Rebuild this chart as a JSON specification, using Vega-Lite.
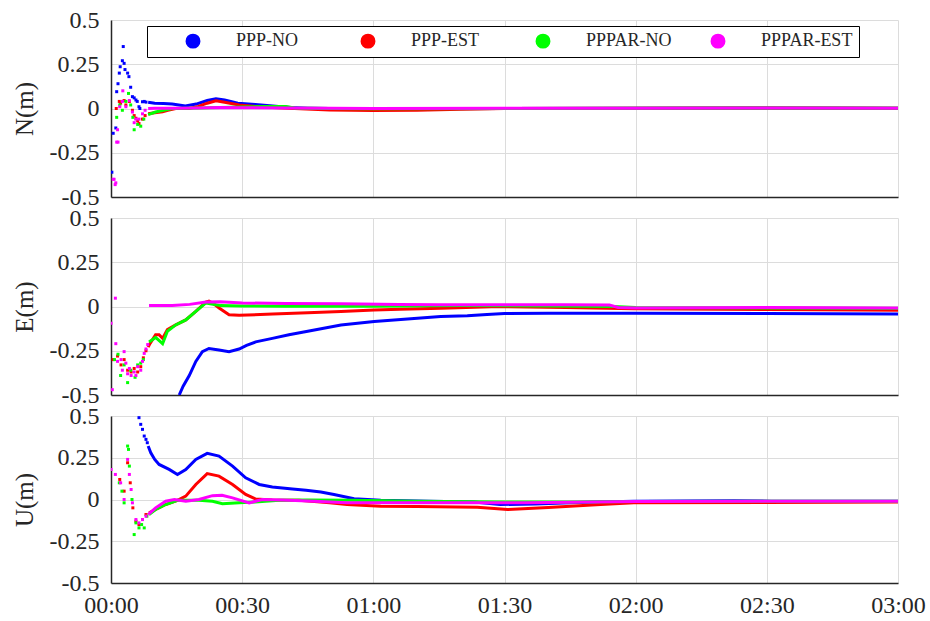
{
 "$schema": "https://vega.github.io/schema/vega-lite/v6.json",
 "background": "white",
 "autosize": {"type": "pad"},
 "padding": {"left": 12, "top": 8, "right": 4, "bottom": 2},
 "datasets": {
  "gnss": [
   {"c":"N","s":"PPP-NO","t":0.2,"v":-0.36},{"c":"N","s":"PPP-NO","t":0.5,"v":-0.14},{"c":"N","s":"PPP-NO","t":1.1,"v":-0.11},{"c":"N","s":"PPP-NO","t":1.3,"v":0.095},{"c":"N","s":"PPP-NO","t":1.6,"v":0.14},{"c":"N","s":"PPP-NO","t":1.9,"v":0.2},{"c":"N","s":"PPP-NO","t":2.1,"v":0.236},{"c":"N","s":"PPP-NO","t":2.6,"v":0.27},{"c":"N","s":"PPP-NO","t":2.8,"v":0.35},{"c":"N","s":"PPP-NO","t":3.0,"v":0.255},{"c":"N","s":"PPP-NO","t":3.2,"v":0.22},{"c":"N","s":"PPP-NO","t":3.8,"v":0.2},{"c":"N","s":"PPP-NO","t":4.1,"v":0.18},{"c":"N","s":"PPP-NO","t":4.5,"v":0.12},{"c":"N","s":"PPP-NO","t":4.9,"v":0.067},{"c":"N","s":"PPP-NO","t":5.3,"v":0.06},{"c":"N","s":"PPP-NO","t":5.7,"v":0.048},{"c":"N","s":"PPP-NO","t":6.0,"v":0.04},{"c":"N","s":"PPP-NO","t":6.4,"v":0.01},{"c":"N","s":"PPP-NO","t":6.6,"v":0.0},{"c":"N","s":"PPP-NO","t":7.2,"v":0.038},{"c":"N","s":"PPP-NO","t":7.6,"v":0.04},{"c":"N","s":"PPP-NO","t":8.0,"v":0.036},
   {"c":"N","s":"PPP-NO","t":8.5,"v":0.035},{"c":"N","s":"PPP-NO","t":10,"v":0.03},{"c":"N","s":"PPP-NO","t":12,"v":0.028},{"c":"N","s":"PPP-NO","t":14,"v":0.025},{"c":"N","s":"PPP-NO","t":17,"v":0.014},{"c":"N","s":"PPP-NO","t":19.5,"v":0.025},{"c":"N","s":"PPP-NO","t":22,"v":0.045},{"c":"N","s":"PPP-NO","t":24,"v":0.055},{"c":"N","s":"PPP-NO","t":26,"v":0.048},{"c":"N","s":"PPP-NO","t":29,"v":0.03},{"c":"N","s":"PPP-NO","t":33,"v":0.022},{"c":"N","s":"PPP-NO","t":37,"v":0.014},{"c":"N","s":"PPP-NO","t":41,"v":0.005},{"c":"N","s":"PPP-NO","t":45,"v":0.002},{"c":"N","s":"PPP-NO","t":50,"v":0.0},{"c":"N","s":"PPP-NO","t":60,"v":-0.003},{"c":"N","s":"PPP-NO","t":70,"v":-0.002},{"c":"N","s":"PPP-NO","t":90,"v":0.0},{"c":"N","s":"PPP-NO","t":120,"v":0.002},{"c":"N","s":"PPP-NO","t":150,"v":0.003},{"c":"N","s":"PPP-NO","t":180,"v":0.002},

   {"c":"N","s":"PPP-EST","t":1.2,"v":0.0},{"c":"N","s":"PPP-EST","t":1.9,"v":0.04},{"c":"N","s":"PPP-EST","t":2.2,"v":0.03},{"c":"N","s":"PPP-EST","t":3.0,"v":0.045},{"c":"N","s":"PPP-EST","t":3.4,"v":0.02},{"c":"N","s":"PPP-EST","t":4.2,"v":0.04},{"c":"N","s":"PPP-EST","t":4.9,"v":-0.01},{"c":"N","s":"PPP-EST","t":5.3,"v":-0.04},{"c":"N","s":"PPP-EST","t":5.7,"v":-0.055},{"c":"N","s":"PPP-EST","t":6.1,"v":-0.07},{"c":"N","s":"PPP-EST","t":6.4,"v":-0.085},{"c":"N","s":"PPP-EST","t":7.2,"v":-0.06},{"c":"N","s":"PPP-EST","t":7.8,"v":-0.04},
   {"c":"N","s":"PPP-EST","t":8.5,"v":-0.03},{"c":"N","s":"PPP-EST","t":10,"v":-0.024},{"c":"N","s":"PPP-EST","t":11.8,"v":-0.018},{"c":"N","s":"PPP-EST","t":13,"v":-0.01},{"c":"N","s":"PPP-EST","t":14.8,"v":0.0},{"c":"N","s":"PPP-EST","t":17.9,"v":0.0},{"c":"N","s":"PPP-EST","t":20,"v":0.012},{"c":"N","s":"PPP-EST","t":22,"v":0.03},{"c":"N","s":"PPP-EST","t":24,"v":0.044},{"c":"N","s":"PPP-EST","t":26,"v":0.035},{"c":"N","s":"PPP-EST","t":29.3,"v":0.02},{"c":"N","s":"PPP-EST","t":33,"v":0.012},{"c":"N","s":"PPP-EST","t":37,"v":0.005},{"c":"N","s":"PPP-EST","t":42,"v":0.0},{"c":"N","s":"PPP-EST","t":50,"v":-0.008},{"c":"N","s":"PPP-EST","t":60,"v":-0.012},{"c":"N","s":"PPP-EST","t":70,"v":-0.01},{"c":"N","s":"PPP-EST","t":80,"v":-0.004},{"c":"N","s":"PPP-EST","t":90,"v":0.0},{"c":"N","s":"PPP-EST","t":120,"v":0.002},{"c":"N","s":"PPP-EST","t":150,"v":0.003},{"c":"N","s":"PPP-EST","t":180,"v":0.002},

   {"c":"N","s":"PPPAR-NO","t":1.3,"v":-0.05},{"c":"N","s":"PPPAR-NO","t":2.0,"v":0.02},{"c":"N","s":"PPPAR-NO","t":2.6,"v":-0.01},{"c":"N","s":"PPPAR-NO","t":3.4,"v":0.04},{"c":"N","s":"PPPAR-NO","t":4.0,"v":0.085},{"c":"N","s":"PPPAR-NO","t":4.5,"v":0.02},{"c":"N","s":"PPPAR-NO","t":5.0,"v":-0.05},{"c":"N","s":"PPPAR-NO","t":5.3,"v":-0.12},{"c":"N","s":"PPPAR-NO","t":6.1,"v":-0.09},{"c":"N","s":"PPPAR-NO","t":6.8,"v":-0.1},{"c":"N","s":"PPPAR-NO","t":7.5,"v":-0.06},
   {"c":"N","s":"PPPAR-NO","t":8.5,"v":-0.035},{"c":"N","s":"PPPAR-NO","t":10.2,"v":-0.02},{"c":"N","s":"PPPAR-NO","t":12,"v":-0.01},{"c":"N","s":"PPPAR-NO","t":14,"v":0.0},{"c":"N","s":"PPPAR-NO","t":20,"v":0.003},{"c":"N","s":"PPPAR-NO","t":25,"v":0.005},{"c":"N","s":"PPPAR-NO","t":30,"v":0.008},{"c":"N","s":"PPPAR-NO","t":35,"v":0.012},{"c":"N","s":"PPPAR-NO","t":40,"v":0.012},{"c":"N","s":"PPPAR-NO","t":42,"v":0.003},{"c":"N","s":"PPPAR-NO","t":50,"v":0.0},{"c":"N","s":"PPPAR-NO","t":60,"v":-0.002},{"c":"N","s":"PPPAR-NO","t":90,"v":0.0},{"c":"N","s":"PPPAR-NO","t":120,"v":0.002},{"c":"N","s":"PPPAR-NO","t":150,"v":0.003},{"c":"N","s":"PPPAR-NO","t":180,"v":0.002},

   {"c":"N","s":"PPPAR-EST","t":0.5,"v":-0.4},{"c":"N","s":"PPPAR-EST","t":0.7,"v":-0.4},{"c":"N","s":"PPPAR-EST","t":0.95,"v":-0.43},{"c":"N","s":"PPPAR-EST","t":1.1,"v":-0.42},{"c":"N","s":"PPPAR-EST","t":1.3,"v":-0.19},{"c":"N","s":"PPPAR-EST","t":1.6,"v":-0.19},{"c":"N","s":"PPPAR-EST","t":1.5,"v":-0.12},{"c":"N","s":"PPPAR-EST","t":2.0,"v":0.01},{"c":"N","s":"PPPAR-EST","t":2.6,"v":0.04},{"c":"N","s":"PPPAR-EST","t":2.7,"v":0.1},{"c":"N","s":"PPPAR-EST","t":3.4,"v":0.01},{"c":"N","s":"PPPAR-EST","t":4.2,"v":0.045},{"c":"N","s":"PPPAR-EST","t":4.9,"v":-0.02},{"c":"N","s":"PPPAR-EST","t":5.3,"v":-0.08},{"c":"N","s":"PPPAR-EST","t":5.7,"v":-0.06},{"c":"N","s":"PPPAR-EST","t":6.4,"v":-0.06},{"c":"N","s":"PPPAR-EST","t":7.2,"v":-0.03},{"c":"N","s":"PPPAR-EST","t":7.8,"v":-0.01},
   {"c":"N","s":"PPPAR-EST","t":8.5,"v":0.0},{"c":"N","s":"PPPAR-EST","t":10,"v":0.002},{"c":"N","s":"PPPAR-EST","t":15,"v":0.002},{"c":"N","s":"PPPAR-EST","t":20,"v":0.003},{"c":"N","s":"PPPAR-EST","t":25,"v":0.005},{"c":"N","s":"PPPAR-EST","t":30,"v":0.004},{"c":"N","s":"PPPAR-EST","t":40,"v":0.003},{"c":"N","s":"PPPAR-EST","t":50,"v":0.001},{"c":"N","s":"PPPAR-EST","t":60,"v":0.0},{"c":"N","s":"PPPAR-EST","t":90,"v":0.001},{"c":"N","s":"PPPAR-EST","t":120,"v":0.002},{"c":"N","s":"PPPAR-EST","t":150,"v":0.003},{"c":"N","s":"PPPAR-EST","t":180,"v":0.002},

   {"c":"E","s":"PPP-NO","t":15.6,"v":-0.5},{"c":"E","s":"PPP-NO","t":16.5,"v":-0.45},{"c":"E","s":"PPP-NO","t":17.9,"v":-0.39},{"c":"E","s":"PPP-NO","t":19.4,"v":-0.31},{"c":"E","s":"PPP-NO","t":20.9,"v":-0.255},{"c":"E","s":"PPP-NO","t":22.4,"v":-0.237},{"c":"E","s":"PPP-NO","t":24.7,"v":-0.246},{"c":"E","s":"PPP-NO","t":27,"v":-0.255},{"c":"E","s":"PPP-NO","t":29.3,"v":-0.24},{"c":"E","s":"PPP-NO","t":31,"v":-0.22},{"c":"E","s":"PPP-NO","t":33.1,"v":-0.2},{"c":"E","s":"PPP-NO","t":36.9,"v":-0.18},{"c":"E","s":"PPP-NO","t":40.7,"v":-0.16},{"c":"E","s":"PPP-NO","t":45,"v":-0.14},{"c":"E","s":"PPP-NO","t":52.6,"v":-0.104},{"c":"E","s":"PPP-NO","t":60.2,"v":-0.085},{"c":"E","s":"PPP-NO","t":67.8,"v":-0.07},{"c":"E","s":"PPP-NO","t":75.4,"v":-0.057},{"c":"E","s":"PPP-NO","t":81.5,"v":-0.052},{"c":"E","s":"PPP-NO","t":86,"v":-0.045},{"c":"E","s":"PPP-NO","t":90,"v":-0.04},{"c":"E","s":"PPP-NO","t":100,"v":-0.038},{"c":"E","s":"PPP-NO","t":120,"v":-0.038},{"c":"E","s":"PPP-NO","t":150,"v":-0.04},{"c":"E","s":"PPP-NO","t":180,"v":-0.042},

   {"c":"E","s":"PPP-EST","t":0.5,"v":-0.3},{"c":"E","s":"PPP-EST","t":1.5,"v":-0.28},{"c":"E","s":"PPP-EST","t":2.3,"v":-0.33},{"c":"E","s":"PPP-EST","t":3.0,"v":-0.3},{"c":"E","s":"PPP-EST","t":3.8,"v":-0.36},{"c":"E","s":"PPP-EST","t":4.6,"v":-0.37},{"c":"E","s":"PPP-EST","t":5.3,"v":-0.35},{"c":"E","s":"PPP-EST","t":6.1,"v":-0.37},{"c":"E","s":"PPP-EST","t":6.8,"v":-0.34},{"c":"E","s":"PPP-EST","t":7.4,"v":-0.29},{"c":"E","s":"PPP-EST","t":8.0,"v":-0.25},
   {"c":"E","s":"PPP-EST","t":8.5,"v":-0.23},{"c":"E","s":"PPP-EST","t":8.9,"v":-0.21},{"c":"E","s":"PPP-EST","t":10.2,"v":-0.16},{"c":"E","s":"PPP-EST","t":11,"v":-0.16},{"c":"E","s":"PPP-EST","t":11.8,"v":-0.18},{"c":"E","s":"PPP-EST","t":12.9,"v":-0.13},{"c":"E","s":"PPP-EST","t":14.8,"v":-0.104},{"c":"E","s":"PPP-EST","t":17.1,"v":-0.076},{"c":"E","s":"PPP-EST","t":19.4,"v":-0.028},{"c":"E","s":"PPP-EST","t":21.7,"v":0.025},{"c":"E","s":"PPP-EST","t":22.4,"v":0.03},{"c":"E","s":"PPP-EST","t":23.5,"v":0.015},{"c":"E","s":"PPP-EST","t":24.8,"v":-0.01},{"c":"E","s":"PPP-EST","t":27,"v":-0.047},{"c":"E","s":"PPP-EST","t":29.3,"v":-0.05},{"c":"E","s":"PPP-EST","t":37,"v":-0.043},{"c":"E","s":"PPP-EST","t":45,"v":-0.036},{"c":"E","s":"PPP-EST","t":52.6,"v":-0.028},{"c":"E","s":"PPP-EST","t":60.2,"v":-0.02},{"c":"E","s":"PPP-EST","t":66,"v":-0.016},{"c":"E","s":"PPP-EST","t":75.4,"v":-0.01},{"c":"E","s":"PPP-EST","t":89,"v":0.0},{"c":"E","s":"PPP-EST","t":104,"v":-0.006},{"c":"E","s":"PPP-EST","t":119.6,"v":-0.013},{"c":"E","s":"PPP-EST","t":150,"v":-0.017},{"c":"E","s":"PPP-EST","t":180,"v":-0.021},

   {"c":"E","s":"PPPAR-NO","t":0.8,"v":-0.3},{"c":"E","s":"PPPAR-NO","t":1.6,"v":-0.27},{"c":"E","s":"PPPAR-NO","t":2.2,"v":-0.39},{"c":"E","s":"PPPAR-NO","t":3.0,"v":-0.33},{"c":"E","s":"PPPAR-NO","t":3.8,"v":-0.43},{"c":"E","s":"PPPAR-NO","t":4.5,"v":-0.36},{"c":"E","s":"PPPAR-NO","t":5.5,"v":-0.4},{"c":"E","s":"PPPAR-NO","t":6.1,"v":-0.33},{"c":"E","s":"PPPAR-NO","t":6.8,"v":-0.32},{"c":"E","s":"PPPAR-NO","t":7.4,"v":-0.3},
   {"c":"E","s":"PPPAR-NO","t":8.7,"v":-0.2},{"c":"E","s":"PPPAR-NO","t":10.2,"v":-0.175},{"c":"E","s":"PPPAR-NO","t":11.8,"v":-0.21},{"c":"E","s":"PPPAR-NO","t":12.9,"v":-0.14},{"c":"E","s":"PPPAR-NO","t":14.8,"v":-0.104},{"c":"E","s":"PPPAR-NO","t":17.1,"v":-0.076},{"c":"E","s":"PPPAR-NO","t":19.4,"v":-0.028},{"c":"E","s":"PPPAR-NO","t":21.7,"v":0.02},{"c":"E","s":"PPPAR-NO","t":25,"v":0.005},{"c":"E","s":"PPPAR-NO","t":30,"v":0.003},{"c":"E","s":"PPPAR-NO","t":40,"v":0.002},{"c":"E","s":"PPPAR-NO","t":50,"v":0.001},{"c":"E","s":"PPPAR-NO","t":60,"v":0.002},{"c":"E","s":"PPPAR-NO","t":80,"v":0.005},{"c":"E","s":"PPPAR-NO","t":100,"v":0.003},{"c":"E","s":"PPPAR-NO","t":115,"v":0.0},{"c":"E","s":"PPPAR-NO","t":120,"v":-0.005},{"c":"E","s":"PPPAR-NO","t":150,"v":-0.008},{"c":"E","s":"PPPAR-NO","t":180,"v":-0.01},

   {"c":"E","s":"PPPAR-EST","t":0.0,"v":-0.095},{"c":"E","s":"PPPAR-EST","t":0.3,"v":-0.47},{"c":"E","s":"PPPAR-EST","t":1.0,"v":0.047},{"c":"E","s":"PPPAR-EST","t":1.1,"v":-0.21},{"c":"E","s":"PPPAR-EST","t":1.5,"v":-0.31},{"c":"E","s":"PPPAR-EST","t":2.3,"v":-0.3},{"c":"E","s":"PPPAR-EST","t":2.6,"v":-0.36},{"c":"E","s":"PPPAR-EST","t":3.0,"v":-0.255},{"c":"E","s":"PPPAR-EST","t":3.4,"v":-0.32},{"c":"E","s":"PPPAR-EST","t":3.8,"v":-0.38},{"c":"E","s":"PPPAR-EST","t":4.2,"v":-0.35},{"c":"E","s":"PPPAR-EST","t":4.6,"v":-0.39},{"c":"E","s":"PPPAR-EST","t":5.3,"v":-0.37},{"c":"E","s":"PPPAR-EST","t":5.7,"v":-0.39},{"c":"E","s":"PPPAR-EST","t":6.1,"v":-0.34},{"c":"E","s":"PPPAR-EST","t":6.8,"v":-0.36},{"c":"E","s":"PPPAR-EST","t":7.2,"v":-0.31},{"c":"E","s":"PPPAR-EST","t":7.6,"v":-0.265},{"c":"E","s":"PPPAR-EST","t":8.0,"v":-0.24},{"c":"E","s":"PPPAR-EST","t":8.4,"v":-0.215},
   {"c":"E","s":"PPPAR-EST","t":8.7,"v":0.005},{"c":"E","s":"PPPAR-EST","t":14,"v":0.006},{"c":"E","s":"PPPAR-EST","t":18,"v":0.012},{"c":"E","s":"PPPAR-EST","t":21.7,"v":0.025},{"c":"E","s":"PPPAR-EST","t":25,"v":0.027},{"c":"E","s":"PPPAR-EST","t":30,"v":0.02},{"c":"E","s":"PPPAR-EST","t":40,"v":0.017},{"c":"E","s":"PPPAR-EST","t":52.6,"v":0.015},{"c":"E","s":"PPPAR-EST","t":66,"v":0.012},{"c":"E","s":"PPPAR-EST","t":75,"v":0.01},{"c":"E","s":"PPPAR-EST","t":90,"v":0.01},{"c":"E","s":"PPPAR-EST","t":104,"v":0.01},{"c":"E","s":"PPPAR-EST","t":114,"v":0.008},{"c":"E","s":"PPPAR-EST","t":116,"v":-0.005},{"c":"E","s":"PPPAR-EST","t":120,"v":-0.008},{"c":"E","s":"PPPAR-EST","t":150,"v":-0.006},{"c":"E","s":"PPPAR-EST","t":180,"v":-0.008},

   {"c":"U","s":"PPP-NO","t":6.4,"v":0.49},{"c":"U","s":"PPP-NO","t":6.8,"v":0.45},{"c":"U","s":"PPP-NO","t":7.2,"v":0.42},{"c":"U","s":"PPP-NO","t":7.6,"v":0.38},{"c":"U","s":"PPP-NO","t":8.0,"v":0.36},{"c":"U","s":"PPP-NO","t":8.3,"v":0.34},
   {"c":"U","s":"PPP-NO","t":8.5,"v":0.32},{"c":"U","s":"PPP-NO","t":9.1,"v":0.28},{"c":"U","s":"PPP-NO","t":10,"v":0.24},{"c":"U","s":"PPP-NO","t":11,"v":0.21},{"c":"U","s":"PPP-NO","t":13.3,"v":0.18},{"c":"U","s":"PPP-NO","t":15.2,"v":0.15},{"c":"U","s":"PPP-NO","t":17.1,"v":0.18},{"c":"U","s":"PPP-NO","t":19.4,"v":0.24},{"c":"U","s":"PPP-NO","t":22,"v":0.276},{"c":"U","s":"PPP-NO","t":24.7,"v":0.26},{"c":"U","s":"PPP-NO","t":27.8,"v":0.2},{"c":"U","s":"PPP-NO","t":30.8,"v":0.13},{"c":"U","s":"PPP-NO","t":33.9,"v":0.09},{"c":"U","s":"PPP-NO","t":36.9,"v":0.075},{"c":"U","s":"PPP-NO","t":41.5,"v":0.063},{"c":"U","s":"PPP-NO","t":44.6,"v":0.055},{"c":"U","s":"PPP-NO","t":48,"v":0.045},{"c":"U","s":"PPP-NO","t":51,"v":0.03},{"c":"U","s":"PPP-NO","t":55.6,"v":0.005},{"c":"U","s":"PPP-NO","t":61.7,"v":-0.005},{"c":"U","s":"PPP-NO","t":73,"v":-0.011},{"c":"U","s":"PPP-NO","t":83,"v":-0.015},{"c":"U","s":"PPP-NO","t":89,"v":-0.03},{"c":"U","s":"PPP-NO","t":97,"v":-0.027},{"c":"U","s":"PPP-NO","t":105,"v":-0.02},{"c":"U","s":"PPP-NO","t":112,"v":-0.015},{"c":"U","s":"PPP-NO","t":119.6,"v":-0.011},{"c":"U","s":"PPP-NO","t":142.5,"v":-0.007},{"c":"U","s":"PPP-NO","t":151,"v":-0.01},{"c":"U","s":"PPP-NO","t":180,"v":-0.01},

   {"c":"U","s":"PPP-EST","t":2.0,"v":0.12},{"c":"U","s":"PPP-EST","t":3.0,"v":0.05},{"c":"U","s":"PPP-EST","t":3.8,"v":0.22},{"c":"U","s":"PPP-EST","t":4.4,"v":0.1},{"c":"U","s":"PPP-EST","t":5.0,"v":-0.05},{"c":"U","s":"PPP-EST","t":5.7,"v":-0.13},{"c":"U","s":"PPP-EST","t":6.4,"v":-0.15},{"c":"U","s":"PPP-EST","t":7.2,"v":-0.12},{"c":"U","s":"PPP-EST","t":8.0,"v":-0.09},
   {"c":"U","s":"PPP-EST","t":8.7,"v":-0.08},{"c":"U","s":"PPP-EST","t":10.2,"v":-0.06},{"c":"U","s":"PPP-EST","t":12.5,"v":-0.03},{"c":"U","s":"PPP-EST","t":15.2,"v":-0.005},{"c":"U","s":"PPP-EST","t":17.1,"v":0.02},{"c":"U","s":"PPP-EST","t":19.4,"v":0.09},{"c":"U","s":"PPP-EST","t":22,"v":0.155},{"c":"U","s":"PPP-EST","t":24.7,"v":0.14},{"c":"U","s":"PPP-EST","t":27.8,"v":0.09},{"c":"U","s":"PPP-EST","t":30.8,"v":0.03},{"c":"U","s":"PPP-EST","t":33.1,"v":0.003},{"c":"U","s":"PPP-EST","t":36.9,"v":-0.003},{"c":"U","s":"PPP-EST","t":43,"v":-0.005},{"c":"U","s":"PPP-EST","t":50,"v":-0.02},{"c":"U","s":"PPP-EST","t":54,"v":-0.03},{"c":"U","s":"PPP-EST","t":61.7,"v":-0.04},{"c":"U","s":"PPP-EST","t":70,"v":-0.042},{"c":"U","s":"PPP-EST","t":83.8,"v":-0.047},{"c":"U","s":"PPP-EST","t":90.7,"v":-0.06},{"c":"U","s":"PPP-EST","t":100,"v":-0.048},{"c":"U","s":"PPP-EST","t":112,"v":-0.03},{"c":"U","s":"PPP-EST","t":119.6,"v":-0.02},{"c":"U","s":"PPP-EST","t":150,"v":-0.018},{"c":"U","s":"PPP-EST","t":180,"v":-0.015},

   {"c":"U","s":"PPPAR-NO","t":1.9,"v":0.1},{"c":"U","s":"PPPAR-NO","t":2.5,"v":0.05},{"c":"U","s":"PPPAR-NO","t":3.0,"v":-0.02},{"c":"U","s":"PPPAR-NO","t":3.8,"v":0.32},{"c":"U","s":"PPPAR-NO","t":4.0,"v":0.3},{"c":"U","s":"PPPAR-NO","t":4.2,"v":0.2},{"c":"U","s":"PPPAR-NO","t":4.8,"v":0.0},{"c":"U","s":"PPPAR-NO","t":5.3,"v":-0.21},{"c":"U","s":"PPPAR-NO","t":5.7,"v":-0.14},{"c":"U","s":"PPPAR-NO","t":6.4,"v":-0.17},{"c":"U","s":"PPPAR-NO","t":7.0,"v":-0.15},{"c":"U","s":"PPPAR-NO","t":7.6,"v":-0.17},{"c":"U","s":"PPPAR-NO","t":8.2,"v":-0.1},
   {"c":"U","s":"PPPAR-NO","t":8.7,"v":-0.09},{"c":"U","s":"PPPAR-NO","t":10.2,"v":-0.06},{"c":"U","s":"PPPAR-NO","t":12.5,"v":-0.03},{"c":"U","s":"PPPAR-NO","t":15.2,"v":-0.005},{"c":"U","s":"PPPAR-NO","t":20.1,"v":-0.005},{"c":"U","s":"PPPAR-NO","t":23.2,"v":-0.01},{"c":"U","s":"PPPAR-NO","t":25.5,"v":-0.025},{"c":"U","s":"PPPAR-NO","t":29.3,"v":-0.02},{"c":"U","s":"PPPAR-NO","t":33,"v":-0.015},{"c":"U","s":"PPPAR-NO","t":38.5,"v":-0.005},{"c":"U","s":"PPPAR-NO","t":45,"v":-0.003},{"c":"U","s":"PPPAR-NO","t":55,"v":-0.005},{"c":"U","s":"PPPAR-NO","t":70,"v":-0.01},{"c":"U","s":"PPPAR-NO","t":90,"v":-0.015},{"c":"U","s":"PPPAR-NO","t":105,"v":-0.015},{"c":"U","s":"PPPAR-NO","t":120,"v":-0.012},{"c":"U","s":"PPPAR-NO","t":150,"v":-0.01},{"c":"U","s":"PPPAR-NO","t":180,"v":-0.01},

   {"c":"U","s":"PPPAR-EST","t":0.0,"v":0.18},{"c":"U","s":"PPPAR-EST","t":1.0,"v":0.15},{"c":"U","s":"PPPAR-EST","t":2.2,"v":0.1},{"c":"U","s":"PPPAR-EST","t":3.0,"v":0.0},{"c":"U","s":"PPPAR-EST","t":3.8,"v":0.24},{"c":"U","s":"PPPAR-EST","t":4.2,"v":0.15},{"c":"U","s":"PPPAR-EST","t":4.6,"v":0.06},{"c":"U","s":"PPPAR-EST","t":4.9,"v":-0.02},{"c":"U","s":"PPPAR-EST","t":5.7,"v":-0.12},{"c":"U","s":"PPPAR-EST","t":6.4,"v":-0.14},{"c":"U","s":"PPPAR-EST","t":7.2,"v":-0.12},{"c":"U","s":"PPPAR-EST","t":8.0,"v":-0.1},
   {"c":"U","s":"PPPAR-EST","t":8.5,"v":-0.09},{"c":"U","s":"PPPAR-EST","t":10.2,"v":-0.05},{"c":"U","s":"PPPAR-EST","t":12.5,"v":-0.01},{"c":"U","s":"PPPAR-EST","t":14.5,"v":0.0},{"c":"U","s":"PPPAR-EST","t":17.1,"v":-0.01},{"c":"U","s":"PPPAR-EST","t":20.1,"v":0.0},{"c":"U","s":"PPPAR-EST","t":23.2,"v":0.023},{"c":"U","s":"PPPAR-EST","t":25.4,"v":0.025},{"c":"U","s":"PPPAR-EST","t":27.8,"v":0.01},{"c":"U","s":"PPPAR-EST","t":31.6,"v":-0.02},{"c":"U","s":"PPPAR-EST","t":34.6,"v":0.0},{"c":"U","s":"PPPAR-EST","t":39.2,"v":-0.003},{"c":"U","s":"PPPAR-EST","t":46.5,"v":-0.01},{"c":"U","s":"PPPAR-EST","t":54,"v":-0.02},{"c":"U","s":"PPPAR-EST","t":70,"v":-0.02},{"c":"U","s":"PPPAR-EST","t":84,"v":-0.02},{"c":"U","s":"PPPAR-EST","t":95,"v":-0.02},{"c":"U","s":"PPPAR-EST","t":110,"v":-0.015},{"c":"U","s":"PPPAR-EST","t":120,"v":-0.012},{"c":"U","s":"PPPAR-EST","t":150,"v":-0.01},{"c":"U","s":"PPPAR-EST","t":180,"v":-0.01}
  ]
 },
 "config": {
  "font": "Liberation Serif",
  "view": {"stroke": null},
  "axis": {
   "labelFont": "Liberation Serif", "titleFont": "Liberation Serif",
   "labelFontSize": 24, "titleFontSize": 25, "titleFontWeight": "normal",
   "labelColor": "#262626", "titleColor": "#262626",
   "domainColor": "#262626", "domainWidth": 1.5,
   "gridColor": "#dcdcdc", "gridWidth": 1, "gridOpacity": 1,
   "ticks": false
  },
  "legend": {
   "orient": "none", "legendX": 36, "legendY": 6,
   "direction": "horizontal", "columns": 4, "gridAlign": "all",
   "columnPadding": -17, "symbolOffset": 31, "labelOffset": 34,
   "padding": 6, "strokeColor": "#000000", "fillColor": "#ffffff",
   "labelFont": "Liberation Serif", "labelFontSize": 18, "labelColor": "#262626",
   "symbolSize": 180, "symbolType": "circle", "labelLimit": 0
  }
 },
 "bounds": "flush",
 "spacing": 21,
 "resolve": {"scale": {"color": "shared"}},
 "vconcat": [
  {
   "width": 787, "height": 177,
   "data": {"name": "gnss"},
   "transform": [{"filter": "datum.c === 'N'"}],
   "encoding": {
    "x": {"field": "t", "type": "quantitative", "scale": {"domain": [0, 180], "nice": false, "zero": false},
          "axis": {"title": null, "labels": false, "values": [0, 30, 60, 90, 120, 150, 180], "grid": true}},
    "y": {"field": "v", "type": "quantitative", "scale": {"domain": [-0.5, 0.5], "nice": false},
          "axis": {"title": "N(m)", "values": [-0.5, -0.25, 0, 0.25, 0.5], "labelExpr": "'' + datum.value", "labelFont": "Liberation Serif", "labelFontSize": 24, "labelPadding": 12, "titlePadding": 12, "grid": true}},
    "color": {"field": "s", "type": "nominal",
              "scale": {"domain": ["PPP-NO", "PPP-EST", "PPPAR-NO", "PPPAR-EST"], "range": ["#0000ff", "#ff0000", "#00ff00", "#ff00ff"]},
              "legend": {"title": null, "encode": {"symbols": {"update": {"fill": {"scale": "color", "field": "value"}, "stroke": {"value": "transparent"}, "opacity": {"value": 1}}}}}}
   },
   "layer": [
    {"transform": [{"filter": "datum.t >= 8.5"}], "mark": {"type": "line", "strokeWidth": 3, "clip": true}, "encoding": {}},
    {"transform": [{"filter": "datum.t < 8.5"}], "mark": {"type": "point", "filled": true, "shape": "square", "size": 9, "opacity": 1, "clip": true}}
   ]
  },
  {
   "width": 787, "height": 177,
   "data": {"name": "gnss"},
   "transform": [{"filter": "datum.c === 'E'"}],
   "encoding": {
    "x": {"field": "t", "type": "quantitative", "scale": {"domain": [0, 180], "nice": false, "zero": false},
          "axis": {"title": null, "labels": false, "values": [0, 30, 60, 90, 120, 150, 180], "grid": true}},
    "y": {"field": "v", "type": "quantitative", "scale": {"domain": [-0.5, 0.5], "nice": false},
          "axis": {"title": "E(m)", "values": [-0.5, -0.25, 0, 0.25, 0.5], "labelExpr": "'' + datum.value", "labelFont": "Liberation Serif", "labelFontSize": 24, "labelPadding": 12, "titlePadding": 12, "grid": true}},
    "color": {"field": "s", "type": "nominal",
              "scale": {"domain": ["PPP-NO", "PPP-EST", "PPPAR-NO", "PPPAR-EST"], "range": ["#0000ff", "#ff0000", "#00ff00", "#ff00ff"]},
              "legend": {"title": null, "encode": {"symbols": {"update": {"fill": {"scale": "color", "field": "value"}, "stroke": {"value": "transparent"}, "opacity": {"value": 1}}}}}}
   },
   "layer": [
    {"transform": [{"filter": "datum.t >= 8.5"}], "mark": {"type": "line", "strokeWidth": 3, "clip": true}, "encoding": {}},
    {"transform": [{"filter": "datum.t < 8.5"}], "mark": {"type": "point", "filled": true, "shape": "square", "size": 9, "opacity": 1, "clip": true}}
   ]
  },
  {
   "width": 787, "height": 167,
   "data": {"name": "gnss"},
   "transform": [{"filter": "datum.c === 'U'"}],
   "encoding": {
    "x": {"field": "t", "type": "quantitative", "scale": {"domain": [0, 180], "nice": false, "zero": false},
          "axis": {"title": null, "values": [0, 30, 60, 90, 120, 150, 180], "grid": true, "labelPadding": 10, "labelFlush": false, "labelFont": "Liberation Serif", "labelFontSize": 24,
                   "labelExpr": "(datum.value < 600 ? '0' : '') + floor(datum.value / 60) + ':' + (datum.value % 60 < 10 ? '0' : '') + (datum.value % 60)"}},
    "y": {"field": "v", "type": "quantitative", "scale": {"domain": [-0.5, 0.5], "nice": false},
          "axis": {"title": "U(m)", "values": [-0.5, -0.25, 0, 0.25, 0.5], "labelExpr": "'' + datum.value", "labelFont": "Liberation Serif", "labelFontSize": 24, "labelPadding": 12, "titlePadding": 12, "grid": true}},
    "color": {"field": "s", "type": "nominal",
              "scale": {"domain": ["PPP-NO", "PPP-EST", "PPPAR-NO", "PPPAR-EST"], "range": ["#0000ff", "#ff0000", "#00ff00", "#ff00ff"]},
              "legend": {"title": null, "encode": {"symbols": {"update": {"fill": {"scale": "color", "field": "value"}, "stroke": {"value": "transparent"}, "opacity": {"value": 1}}}}}}
   },
   "layer": [
    {"transform": [{"filter": "datum.t >= 8.5"}], "mark": {"type": "line", "strokeWidth": 3, "clip": true}, "encoding": {}},
    {"transform": [{"filter": "datum.t < 8.5"}], "mark": {"type": "point", "filled": true, "shape": "square", "size": 9, "opacity": 1, "clip": true}}
   ]
  }
 ]
}
